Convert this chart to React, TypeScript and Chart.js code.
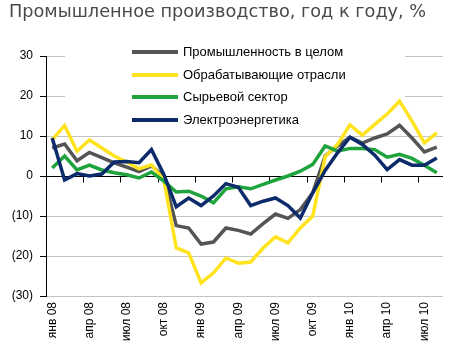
import React, { useEffect, useRef } from "react";
import { Chart, registerables } from "chart.js";

Chart.register(...registerables);

const TITLE = "Промышленное производство, год к году, %";

const categories = [
  "янв 08", "фев 08", "мар 08", "апр 08", "май 08", "июн 08", "июл 08", "авг 08", "сен 08", "окт 08", "ноя 08", "дек 08",
  "янв 09", "фев 09", "мар 09", "апр 09", "май 09", "июн 09", "июл 09", "авг 09", "сен 09", "окт 09", "ноя 09", "дек 09",
  "янв 10", "фев 10", "мар 10", "апр 10", "май 10", "июн 10", "июл 10", "авг 10",
];

const seriesNames = [
  "Промышленность в целом",
  "Обрабатывающие отрасли",
  "Сырьевой сектор",
  "Электроэнергетика",
];

const industryTotal = [
  7.0, 8.0, 3.8, 5.9, 4.6, 3.3, 2.2, 1.1, 2.5, 0.0, -12.4, -13.0,
  -17.0, -16.5, -13.0, -13.6, -14.5, -11.9, -9.5, -10.6, -8.4, -4.2, 5.0, 7.5,
  9.7, 8.2, 9.5, 10.5, 12.7, 9.5, 6.0, 7.2,
];

const manufacturing = [
  9.1, 12.6, 6.2, 9.0, 7.0, 5.0, 3.5, 1.8, 2.8, -1.0, -18.0, -19.2,
  -26.7, -24.2, -20.5, -21.8, -21.5, -18.0, -15.2, -16.7, -13.0, -10.0, 4.8, 7.9,
  12.8, 10.2, 12.9, 15.5, 18.7, 13.7, 8.3, 10.8,
];

const rawMaterials = [
  2.0, 5.0, 1.5, 2.7, 1.5, 0.8, 0.3, -0.5, 1.0, -1.3, -4.0, -3.8,
  -5.0, -6.7, -3.2, -2.7, -3.2, -2.1, -1.0, 0.0, 1.2, 2.9, 7.5, 6.2,
  6.9, 6.9, 6.6, 4.7, 5.4, 4.4, 2.7, 0.8,
];

const electricity = [
  9.5, -1.0, 0.6, 0.0, 0.5, 3.5, 3.6, 3.3, 6.6, 0.4, -7.7, -5.5,
  -7.4, -5.0, -1.9, -2.8, -7.4, -6.3, -5.5, -7.4, -10.5, -4.2, 1.4, 5.8,
  9.7, 7.9, 5.2, 1.6, 4.1, 2.7, 2.7, 4.5,
];

const seriesColors = ["#555555", "#FFE31E", "#1FA33C", "#0B2B6B"];

const yTicks = [-30, -20, -10, 0, 10, 20, 30];

const FONT = "'Liberation Sans', Arial, sans-serif";

const titlePlugin = {
  id: "titleText",
  afterDraw(chart: any) {
    const ctx = chart.ctx;
    ctx.save();
    ctx.font = `17.7px 'DejaVu Sans', 'Open Sans', sans-serif`;
    ctx.fillStyle = "#4a4a4a";
    ctx.textAlign = "left";
    ctx.textBaseline = "alphabetic";
    ctx.fillText(TITLE, 9, 17);
    ctx.restore();
  },
};

const innerLegendPlugin = {
  id: "innerLegend",
  beforeDatasetsDraw(chart: any) {
    const ctx = chart.ctx;
    const area = chart.chartArea;
    const x = chart.scales.x;
    const y = chart.scales.y;
    ctx.save();
    // legend background box
    const boxL = area.left + 19;
    const boxT = area.top - 16;
    ctx.fillStyle = "#ffffff";
    ctx.fillRect(boxL, boxT, 340, 91);

    // zero line and tick marks
    const y0 = Math.round(y.getPixelForValue(0)) + 0.5;
    ctx.strokeStyle = "#000000";
    ctx.lineWidth = 1;
    ctx.beginPath();
    ctx.moveTo(area.left, y0);
    ctx.lineTo(area.right, y0);
    for (let k = 3; k < categories.length; k += 3) {
      const px = Math.round(x.getPixelForValue(k - 0.5)) + 0.5;
      ctx.moveTo(px, y0);
      ctx.lineTo(px, y0 + 6);
    }
    ctx.stroke();

    // legend entries
    const rowY = [52, 75, 97, 120];
    chart.data.datasets.forEach((ds: any, i: number) => {
      const ry = rowY[i];
      ctx.strokeStyle = ds.borderColor;
      ctx.lineWidth = 4;
      ctx.beginPath();
      ctx.moveTo(132, ry);
      ctx.lineTo(178, ry);
      ctx.stroke();
      ctx.fillStyle = "#000000";
      ctx.font = `13px ${FONT}`;
      ctx.textAlign = "left";
      ctx.textBaseline = "middle";
      ctx.fillText(ds.label, 183, ry);
    });
    ctx.restore();
  },
};

export default function App() {
  const canvasRef = useRef<HTMLCanvasElement | null>(null);

  useEffect(() => {
    document.body.style.margin = "0";
    const canvas = canvasRef.current;
    if (!canvas) return;
    const data = [industryTotal, manufacturing, rawMaterials, electricity];
    const chart = new Chart(canvas, {
      type: "line",
      data: {
        labels: categories,
        datasets: seriesNames.map((name, i) => ({
          label: name,
          data: data[i],
          borderColor: seriesColors[i],
          backgroundColor: seriesColors[i],
          borderWidth: 3.5,
          pointRadius: 0,
          tension: 0,
          fill: false,
          order: 4 - i,
        })),
      },
      options: {
        responsive: false,
        animation: false,
        devicePixelRatio: 1,
        layout: { padding: { top: 56, right: 22, left: 0, bottom: 0 } },
        plugins: {
          legend: { display: false },
          title: { display: false },
          tooltip: { enabled: false },
        },
        scales: {
          x: {
            type: "category",
            offset: true,
            grid: { display: false, drawTicks: false, offset: true },
            border: { display: false },
            ticks: {
              autoSkip: false,
              minRotation: 90,
              maxRotation: 90,
              padding: 6,
              color: "#000000",
              font: { family: FONT, size: 12 },
              callback: (_v: any, idx: number) => (idx % 3 === 0 ? categories[idx] : ""),
            },
            afterFit: (s: any) => {
              s.height = 55;
            },
          },
          y: {
            min: yTicks[0],
            max: yTicks[yTicks.length - 1],
            afterBuildTicks: (s: any) => {
              s.ticks = yTicks.map((v) => ({ value: v }));
            },
            ticks: {
              padding: 7,
              color: "#000000",
              font: { family: FONT, size: 12 },
              callback: (v: any) => (Number(v) < 0 ? `(${-Number(v)})` : `${v}`),
            },
            grid: {
              color: (c: any) => (c.tick && c.tick.value === 0 ? "rgba(0,0,0,0)" : "#c4c4c4"),
              tickColor: "#000000",
              tickLength: 6,
              lineWidth: 1,
            },
            border: { display: true, color: "#000000", width: 1 },
            afterFit: (s: any) => {
              s.width = 46;
            },
          },
        },
      } as any,
      plugins: [innerLegendPlugin, titlePlugin],
    });
    return () => chart.destroy();
  }, []);

  return (
    <div style={{ position: "fixed", left: 0, top: 0, width: 465, height: 351, background: "#fff" }}>
      <canvas ref={canvasRef} width={465} height={351} />
    </div>
  );
}
